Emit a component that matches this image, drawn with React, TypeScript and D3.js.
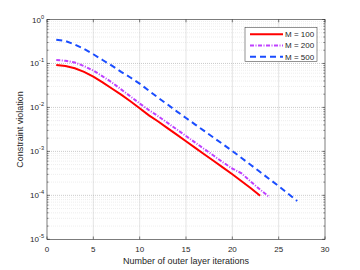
import * as d3 from 'd3';

const iterations = [1, 2, 3, 4, 5, 6, 7, 8, 9, 10, 11, 12, 13, 14, 15, 16, 17, 18, 19, 20, 21, 22, 23, 24, 25, 26, 27];

const m100 = [0.0923, 0.0871, 0.0776, 0.0646, 0.0501, 0.0372, 0.0269, 0.0195, 0.0138, 0.00955, 0.0066, 0.00479,
  0.00339, 0.0024, 0.0017, 0.0012, 0.000851, 0.000603, 0.000427, 0.000302, 0.000209, 0.000145, 0.0000977];
const m200 = [0.12, 0.115, 0.105, 0.087, 0.069, 0.051, 0.037, 0.0257, 0.0178, 0.0123, 0.0087, 0.0063, 0.00447,
  0.00316, 0.00224, 0.00158, 0.00112, 0.000794, 0.000562, 0.000407, 0.000316, 0.000204, 0.000135, 0.0000912];
const m500 = [0.347, 0.324, 0.269, 0.214, 0.162, 0.12, 0.0891, 0.0646, 0.0479, 0.0347, 0.024, 0.0166, 0.0117,
  0.00813, 0.00575, 0.00407, 0.00288, 0.00204, 0.00145, 0.00102, 0.000708, 0.00049, 0.000339, 0.000234,
  0.000162, 0.00011, 0.0000741];

const seriesNames = ['M = 100', 'M = 200', 'M = 500'];
const xTicks = [0, 5, 10, 15, 20, 25, 30];
const yExponents = [0, -1, -2, -3, -4, -5];

const colors = ['#ff0000', '#bf40ff', '#1a4dff'];
const dashes = ['none', '4,1.5,1,1.5', '6,4'];

const left = 47;
const right = 325;
const top = 19.5;
const bottom = 239.3;
const ink = '#262626';
const font = 'Liberation Sans, Arial, sans-serif';

const App = () => {
  const x = d3.scaleLinear().domain([0, 30]).range([left, right]);
  const y = d3.scaleLog().domain([1e-5, 1]).range([bottom, top]);

  const line = d3
    .line<[number, number]>()
    .x((d) => x(d[0]))
    .y((d) => y(d[1]));

  const series = [m100, m200, m500].map((vals) => vals.map((v, i) => [iterations[i], v] as [number, number]));

  // minor decades for the log axis
  const minors: number[] = [];
  yExponents.slice(1).forEach((e) => {
    for (let k = 2; k <= 9; k++) minors.push(k * Math.pow(10, e));
  });

  const tick = 2.8;

  return (
    <svg width={360} height={270} style={{ position: 'absolute', left: 0, top: 0, background: '#fff' }} fontFamily={font}>
      <rect x={left} y={top} width={right - left} height={bottom - top} fill="#fff" />

      {/* minor grid */}
      {minors.map((m) => (
        <line key={'mg' + m} x1={left} x2={right} y1={y(m)} y2={y(m)} stroke="#dcdcdc" strokeWidth={0.5} strokeDasharray="1,1" />
      ))}
      {/* major grid */}
      {xTicks.slice(1, -1).map((t) => (
        <line key={'xg' + t} x1={x(t)} x2={x(t)} y1={top} y2={bottom} stroke="#a8a8a8" strokeWidth={0.6} strokeDasharray="1,1" />
      ))}
      {yExponents.slice(1, -1).map((e) => (
        <line key={'yg' + e} x1={left} x2={right} y1={y(Math.pow(10, e))} y2={y(Math.pow(10, e))} stroke="#a8a8a8" strokeWidth={0.6} strokeDasharray="1,1" />
      ))}

      {/* data */}
      {series.map((s, i) => (
        <path key={i} d={line(s) || ''} fill="none" stroke={colors[i]} strokeWidth={2} strokeDasharray={dashes[i]} />
      ))}

      {/* box */}
      <rect x={left} y={top} width={right - left} height={bottom - top} fill="none" stroke={ink} strokeWidth={0.6} />

      {/* ticks */}
      {xTicks.map((t) => (
        <g key={'xt' + t}>
          <line x1={x(t)} x2={x(t)} y1={bottom} y2={bottom - tick} stroke={ink} strokeWidth={0.6} />
          <line x1={x(t)} x2={x(t)} y1={top} y2={top + tick} stroke={ink} strokeWidth={0.6} />
          <text x={x(t)} y={252} textAnchor="middle" fontSize={8} fill={ink}>
            {t}
          </text>
        </g>
      ))}
      {yExponents.map((e) => {
        const yy = y(Math.pow(10, e));
        return (
          <g key={'yt' + e}>
            <line x1={left} x2={left + tick} y1={yy} y2={yy} stroke={ink} strokeWidth={0.6} />
            <line x1={right} x2={right - tick} y1={yy} y2={yy} stroke={ink} strokeWidth={0.6} />
            <text x={44} y={yy + 3} textAnchor="end" fontSize={8} fill={ink}>
              10
              <tspan fontSize={5.6} dy={-4}>
                {e}
              </tspan>
            </text>
          </g>
        );
      })}
      {minors.map((m) => (
        <g key={'mt' + m}>
          <line x1={left} x2={left + 1.6} y1={y(m)} y2={y(m)} stroke={ink} strokeWidth={0.5} />
          <line x1={right} x2={right - 1.6} y1={y(m)} y2={y(m)} stroke={ink} strokeWidth={0.5} />
        </g>
      ))}

      {/* axis titles */}
      <text x={(left + right) / 2} y={264} textAnchor="middle" fontSize={9} fill={ink}>
        Number of outer layer iterations
      </text>
      <text transform={`translate(23,${(top + bottom) / 2}) rotate(-90)`} textAnchor="middle" fontSize={9} fill={ink}>
        Constraint violation
      </text>

      {/* legend */}
      <rect x={245} y={27.3} width={72} height={34.4} fill="#fff" stroke={ink} strokeWidth={0.5} />
      {seriesNames.map((name, i) => {
        const ly = 34.3 + i * 11.2;
        return (
          <g key={name}>
            <line x1={250} x2={283} y1={ly} y2={ly} stroke={colors[i]} strokeWidth={2} strokeDasharray={dashes[i]} />
            <text x={285} y={ly + 2.9} fontSize={8} fill={ink}>
              {name}
            </text>
          </g>
        );
      })}
    </svg>
  );
};

export default App;
